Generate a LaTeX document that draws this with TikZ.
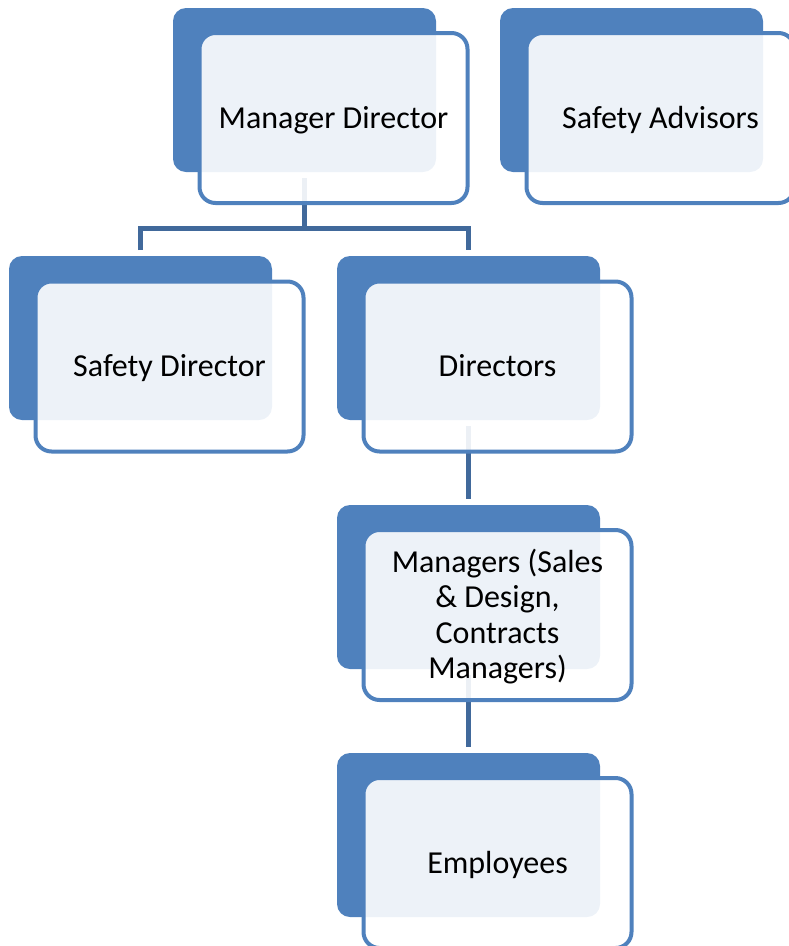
\documentclass[tikz,border=0pt]{standalone}
\usepackage{fontspec}
\setmainfont{Carlito}
\definecolor{acc}{HTML}{4F81BD}
\definecolor{conn}{RGB}{65,105,155}
\newcommand{\boxstrut}{\rule[-7.4pt]{0pt}{35.4pt}}
\begin{document}
\begin{tikzpicture}[x=1pt,y=-1pt,
  backbox/.style={rectangle, rounded corners=13pt, fill=acc, minimum width=263pt, minimum height=164pt, inner sep=0pt, outer sep=0pt},
  frontbox/.style={rectangle, rounded corners=16pt, draw=acc, line width=4pt, fill=white, fill opacity=0.9, draw opacity=1, text opacity=1, minimum width=268pt, minimum height=170pt, align=center, font=\fontsize{32}{35.5}\selectfont, inner sep=0pt, outer sep=0pt},
  link/.style={draw=conn, line width=5pt}]
\path[use as bounding box, clip] (0,0) rectangle (789,946);
% back shapes
\node[backbox] (mdb)  at (304.5,90) {};
\node[backbox] (sab)  at (631.5,90) {};
\node[backbox] (sdb)  at (140.5,338) {};
\node[backbox] (dirb) at (468.5,338) {};
\node[backbox] (mgb)  at (468.5,587) {};
\node[backbox] (emb)  at (468.5,835) {};
% connectors
\coordinate (bar) at (304.5,228.5);
\draw[link] ([yshift=-6pt]mdb.south) -- (bar);
\draw[link] ([yshift=6pt]sdb.north) -- (sdb.north |- bar) -- (dirb.north |- bar) -- ([yshift=6pt]dirb.north);
\draw[link] ([yshift=-6pt]dirb.south) -- ([yshift=6pt]mgb.north);
\draw[link] ([yshift=-6pt]mgb.south) -- ([yshift=6pt]emb.north);
% front shapes
\node[frontbox] (md)  at (333.5,118) {\boxstrut Manager Director};
\node[frontbox] (sa)  at (660.5,118) {\boxstrut Safety Advisors};
\node[frontbox] (sd)  at (169.5,366.5) {\boxstrut Safety Director};
\node[frontbox] (dir) at (497.5,366.5) {\boxstrut Directors};
\node[frontbox] (mg)  at (497.5,615) {\boxstrut Managers (Sales\\ \& Design,\\ Contracts\\ Managers)\boxstrut};
\node[frontbox] (em)  at (497.5,863) {\boxstrut Employees};
\end{tikzpicture}
\end{document}
